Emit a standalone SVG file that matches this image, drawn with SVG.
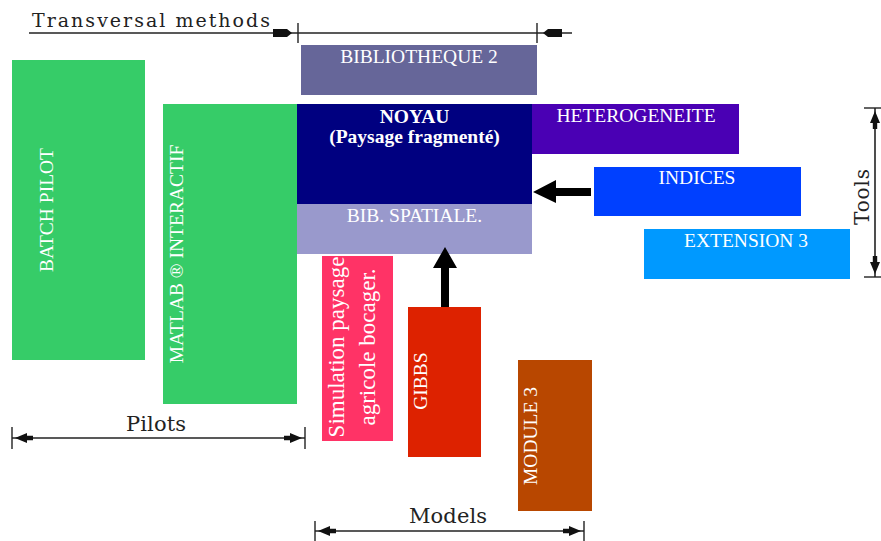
<svg xmlns="http://www.w3.org/2000/svg" width="881" height="541" viewBox="0 0 881 541">
<style>
  .lbl { font-family: "Liberation Serif", "Times New Roman", serif; font-size: 19.5px; fill: #ffffff; text-anchor: middle; }
  .big { font-size: 23px; }
  .bold { font-weight: bold; }
  .dim { font-family: "DejaVu Serif", "Liberation Serif", serif; fill: #222222; text-anchor: middle; }
  .dline { stroke: #222222; stroke-width: 1.6; fill: none; }
  .tick { stroke: #222222; stroke-width: 1.4; fill: none; }
  .conn { fill: #000000; }
</style>
<defs>
  <path id="dimhead" d="M0,0 L-12,-5 L-12,-2.2 L-18,-2.2 L-18,2.2 L-12,2.2 L-12,5 Z" fill="#111111"/>
  <path id="smallhead" d="M0,0 L-5,-4 L-19,-4 L-19,4 L-5,4 Z" fill="#111111"/>
</defs>
<rect width="881" height="541" fill="#ffffff"/>

<g id="batch-pilot">
  <rect x="12" y="60" width="133" height="300" fill="#36CC68"/>
  <text class="lbl" transform="translate(53,210) rotate(-90)">BATCH PILOT</text>
</g>
<g id="matlab">
  <rect x="163" y="104" width="134" height="300" fill="#36CC68"/>
  <text class="lbl" transform="translate(183,254) rotate(-90)">MATLAB ® INTERACTIF</text>
</g>
<g id="bibliotheque2">
  <rect x="301" y="45" width="236" height="50" fill="#666699"/>
  <text class="lbl" x="419" y="63">BIBLIOTHEQUE 2</text>
</g>
<g id="noyau">
  <rect x="297" y="104" width="235" height="100" fill="#000080"/>
  <text class="lbl bold" x="414.5" y="123">NOYAU</text>
  <text class="lbl bold" x="414.5" y="143">(Paysage fragmenté)</text>
</g>
<g id="bib-spatiale">
  <rect x="297" y="204" width="235" height="50" fill="#9999CC"/>
  <text class="lbl" x="414.5" y="222">BIB. SPATIALE.</text>
</g>
<g id="heterogeneite">
  <rect x="532" y="104" width="207" height="50" fill="#4A00B4"/>
  <text class="lbl" x="636" y="122">HETEROGENEITE</text>
</g>
<g id="indices">
  <rect x="594" y="167" width="207" height="49" fill="#0040FF"/>
  <text class="lbl" x="697" y="184">INDICES</text>
</g>
<g id="extension3">
  <rect x="644" y="229" width="206" height="50" fill="#0099FF"/>
  <text class="lbl" x="746" y="247">EXTENSION 3</text>
</g>
<g id="simulation">
  <rect x="322" y="256" width="71" height="185" fill="#FF3366"/>
  <text class="lbl big" transform="translate(344,347) rotate(-90)">Simulation paysage</text>
  <text class="lbl big" transform="translate(375,347) rotate(-90)">agricole bocager.</text>
</g>
<g id="gibbs">
  <rect x="408" y="307" width="73" height="150" fill="#DD2200"/>
  <text class="lbl" transform="translate(427,381) rotate(-90)">GIBBS</text>
</g>
<g id="module3">
  <rect x="518" y="360" width="74" height="151" fill="#B84700"/>
  <text class="lbl" transform="translate(537,436) rotate(-90)">MODULE 3</text>
</g>

<g id="connectors">
  <polygon class="conn" points="533,192 556,180 556,188 591,188 591,196 556,196 556,203"/>
  <polygon class="conn" points="445,247 457,268 449,268 449,307 441,307 441,268 433,268"/>
</g>

<g id="dimensions">
  <!-- Transversal methods -->
  <text class="dim" x="151" y="27" font-size="19" textLength="238" lengthAdjust="spacing">Transversal methods</text>
  <line class="dline" x1="29" y1="33" x2="572" y2="33"/>
  <line class="tick" x1="298" y1="23" x2="298" y2="43"/>
  <line class="tick" x1="537" y1="23" x2="537" y2="43"/>
  <use href="#smallhead" transform="translate(292,33)"/>
  <use href="#smallhead" transform="translate(543,33) rotate(180)"/>

  <!-- Pilots -->
  <text class="dim" x="156" y="431" font-size="21" textLength="60" lengthAdjust="spacing">Pilots</text>
  <line class="dline" x1="12" y1="438" x2="305" y2="438"/>
  <line class="tick" x1="12" y1="427" x2="12" y2="449"/>
  <line class="tick" x1="305" y1="427" x2="305" y2="449"/>
  <use href="#dimhead" transform="translate(15,438) rotate(180)"/>
  <use href="#dimhead" transform="translate(302,438)"/>

  <!-- Models -->
  <text class="dim" x="448" y="523" font-size="21" textLength="78" lengthAdjust="spacing">Models</text>
  <line class="dline" x1="315" y1="531" x2="584" y2="531"/>
  <line class="tick" x1="315" y1="521" x2="315" y2="541"/>
  <line class="tick" x1="584" y1="521" x2="584" y2="541"/>
  <use href="#dimhead" transform="translate(318,531) rotate(180)"/>
  <use href="#dimhead" transform="translate(581,531)"/>

  <!-- Tools -->
  <text class="dim" font-size="20" textLength="56" lengthAdjust="spacing" transform="translate(869,197) rotate(-90)">Tools</text>
  <line class="dline" x1="875" y1="108" x2="875" y2="277"/>
  <line class="tick" x1="864" y1="108" x2="881" y2="108"/>
  <line class="tick" x1="864" y1="277" x2="881" y2="277"/>
  <use href="#dimhead" transform="translate(875,111) rotate(-90)"/>
  <use href="#dimhead" transform="translate(875,274) rotate(90)"/>
</g>
</svg>
